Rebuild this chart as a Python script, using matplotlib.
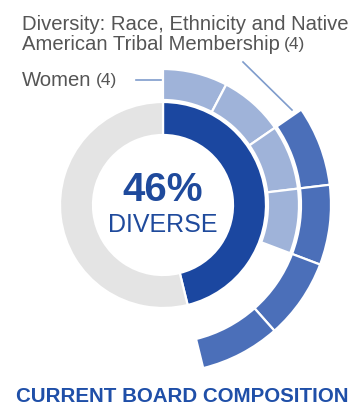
import matplotlib
matplotlib.use("Agg")
import matplotlib.pyplot as plt

# ---- data ----
board_size = 13
diverse_count = 6
pct_diverse = 46
women_count = 4
women_start = 0          # seats before the women segments (from the top)
diversity_count = 4
diversity_start = 2      # seats before the diversity segments
center_value = "46%"
center_label = "DIVERSE"
women_label = "Women"
diversity_label_l1 = "Diversity: Race, Ethnicity and Native"
diversity_label_l2 = "American Tribal Membership"
title = "CURRENT BOARD COMPOSITION"

W, H = 354, 405
fig = plt.figure(figsize=(W / 100, H / 100), dpi=100)
ax = fig.add_axes([0, 0, 1, 1])

cx, cy = 163, H - 205
dark = "#1b47a0"
gray = "#e4e4e4"
light = "#9fb3d9"
mid = "#4b6fb9"
txt = "#555555"
blue_txt = "#1f4a9c"
font = "Liberation Sans"

def ring(values, colors, r_out, width):
    wedges, _ = ax.pie(values, colors=colors, radius=r_out, center=(cx, cy),
                       startangle=90, counterclock=False,
                       wedgeprops=dict(width=width, edgecolor="white", linewidth=1.6))
    for w, c in zip(wedges, colors):
        if c == "none":
            w.set_edgecolor("none")
    return wedges

# inner ring
ring([diverse_count, board_size - diverse_count], [dark, gray], 103, 33)
# women ring
wv = ([women_start] if women_start else []) + [1] * women_count + [board_size - women_start - women_count]
wc = (["none"] if women_start else []) + [light] * women_count + ["none"]
ring(wv, wc, 136, 31)
# diversity ring
dv = [diversity_start] + [1] * diversity_count + [board_size - diversity_start - diversity_count]
dc = ["none"] + [mid] * diversity_count + ["none"]
ring(dv, dc, 168, 30)

ax.set_xlim(0, W)
ax.set_ylim(0, H)
ax.set_aspect("equal")
ax.axis("off")

# center text
ax.text(cx, H - 190, center_value, ha="center", va="center", fontsize=29,
        fontweight="bold", color=blue_txt, family=font)
ax.text(cx, H - 225, center_label, ha="center", va="center", fontsize=18,
        color=blue_txt, family=font)

# labels
ax.text(22, H - 24, diversity_label_l1, ha="left", va="center", fontsize=14.6,
        color=txt, family=font)
t2 = ax.text(22, H - 45, diversity_label_l2, ha="left", va="center", fontsize=14.6,
             color=txt, family=font)
fig.canvas.draw()
bb = t2.get_window_extent()
ax.text(bb.x1 + 4, H - 45, f"({diversity_count})", ha="left", va="center", fontsize=12.5,
        color=txt, family=font)

t3 = ax.text(22, H - 81, women_label, ha="left", va="center", fontsize=14.6,
             color=txt, family=font)
fig.canvas.draw()
bb3 = t3.get_window_extent()
ax.text(bb3.x1 + 4, H - 81, f"({women_count})", ha="left", va="center", fontsize=12.5,
        color=txt, family=font)

# leader lines
ax.plot([136, 161], [H - 80, H - 80], color="#7f9ccc", lw=1.2)
ax.plot([243, 292], [H - 62, H - 110], color="#7f9ccc", lw=1.2)

# title
ax.text(W / 2 + 5, H - 396, title, ha="center", va="center", fontsize=14.8,
        fontweight="bold", color="#1f4fa8", family=font)

fig.savefig("out.png", dpi=100)
